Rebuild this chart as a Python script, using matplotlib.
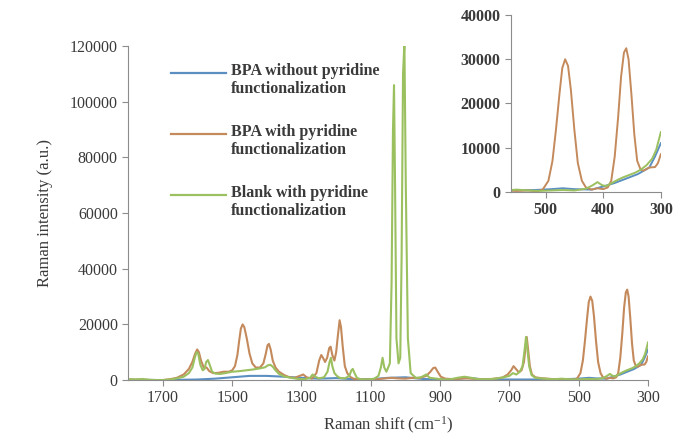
import matplotlib
matplotlib.use("Agg")
import matplotlib.pyplot as plt
from matplotlib.lines import Line2D

plt.rcParams['font.family'] = ['Liberation Serif', 'DejaVu Serif']
plt.rcParams['mathtext.default'] = 'regular'

# Raman shift (cm-1) and intensity (a.u.)
blue_x = [1800, 1750, 1700, 1650, 1600, 1550, 1500, 1450, 1400, 1350, 1300, 1250,
          1200, 1150, 1100, 1050, 1000, 950, 900, 850, 820, 780, 700, 600, 520,
          490, 470, 450, 420, 400, 380, 360, 340, 320, 310, 300]
blue_y = [100, 50, 0, 100, 200, 500, 1000, 1500, 1500, 1200, 800, 500,
          700, 300, 300, 800, 1000, 400, 200, 400, 800, 300, 200, 200, 400,
          600, 800, 600, 500, 1200, 2000, 3000, 4000, 5500, 8000, 11000]

brown_x = [1800, 1760, 1720, 1700, 1680, 1660, 1640, 1625, 1615, 1607, 1601, 1596,
           1590, 1582, 1574, 1566, 1555, 1540, 1525, 1510, 1500, 1492, 1485, 1480,
           1475, 1470, 1465, 1458, 1450, 1442, 1432, 1420, 1410, 1403, 1398, 1394,
           1389, 1383, 1375, 1365, 1350, 1335, 1320, 1305, 1295, 1285, 1270, 1257,
           1249, 1243, 1238, 1232, 1226, 1220, 1216, 1211, 1205, 1200, 1195, 1190,
           1186, 1181, 1175, 1168, 1160, 1150, 1130, 1100, 1080, 1060, 1040, 1020,
           1000, 980, 960, 940, 928, 920, 914, 907, 898, 885, 860, 830,
           810, 780, 750, 720, 705, 695, 688, 681, 673, 665, 658, 654,
           650, 646, 641, 635, 625, 610, 590, 570, 550, 530, 515, 505,
           495, 488, 482, 476, 471, 466, 461, 456, 450, 444, 437, 430,
           420, 410, 400, 392, 386, 380, 374, 369, 364, 360, 356, 351,
           346, 341, 335, 330, 320, 310, 305, 300]
brown_y = [200, 100, 0, 0, 300, 800, 2000, 4000, 6500, 9500, 11000, 10000,
           7000, 4500, 4500, 3200, 2500, 2600, 3000, 3000, 3500, 5000, 9000, 14000,
           18500, 20000, 19000, 15000, 9500, 6000, 4500, 4500, 6000, 9500, 12500, 13000,
           11000, 7000, 4500, 3000, 1800, 1000, 800, 1500, 2000, 1000, 500, 2500,
           7000, 9000, 8000, 6500, 8000, 11500, 12000, 9000, 7000, 10000, 16000, 21500,
           19000, 12000, 5000, 2500, 1200, 500, 200, 200, 300, 600, 800, 600,
           500, 800, 700, 1500, 3000, 4300, 4500, 3000, 1200, 500, 300, 600,
           500, 300, 400, 900, 2000, 3500, 5000, 4000, 2800, 3500, 6500, 11000,
           15500, 11000, 5000, 2000, 1000, 700, 500, 300, 200, 300, 100, 500,
           2500, 7000, 14000, 22000, 28000, 30000, 28500, 23000, 14000, 6500, 2500, 1000,
           500, 800, 600, 1000, 2500, 8000, 17000, 26000, 31500, 32500, 30000, 22000,
           13000, 7000, 5000, 4800, 5500, 5600, 6500, 8500]

green_x = [1800, 1780, 1760, 1740, 1720, 1700, 1680, 1660, 1640, 1625, 1615, 1608,
           1603, 1598, 1592, 1585, 1580, 1575, 1570, 1565, 1558, 1548, 1535, 1520,
           1500, 1480, 1460, 1440, 1420, 1405, 1397, 1390, 1383, 1375, 1365, 1350,
           1330, 1310, 1290, 1275, 1268, 1260, 1250, 1235, 1225, 1219, 1215, 1211,
           1205, 1198, 1190, 1175, 1162, 1156, 1152, 1147, 1140, 1130, 1110, 1090,
           1078, 1071, 1066, 1061, 1055, 1045, 1040, 1036, 1033, 1030, 1026, 1020,
           1015, 1011, 1007, 1003, 999, 993, 985, 970, 955, 940, 930, 910,
           890, 870, 850, 830, 810, 790, 760, 740, 720, 700, 690, 680,
           670, 662, 656, 652, 648, 643, 636, 625, 610, 590, 570, 550,
           530, 510, 490, 470, 450, 430, 418, 410, 402, 395, 385, 375,
           365, 355, 345, 335, 325, 315, 308, 300]
green_y = [300, 200, 400, 100, 0, 0, 200, 600, 1200, 2500, 4500, 8000,
           10000, 9500, 5500, 3500, 4000, 6500, 7200, 5500, 3000, 2300, 2200, 2500,
           3000, 3200, 3500, 3800, 4200, 4600, 5300, 5500, 4800, 3500, 2200, 1300,
           800, 400, 300, 800, 2000, 1200, 600, 1000, 3000, 6500, 8000, 5000,
           2500, 1500, 800, 600, 1500, 3500, 4000, 2500, 800, 300, 200, 500,
           1500, 4500, 8000, 4500, 3000, 6000, 35000, 90000, 106000, 70000, 15000, 6000,
           8000, 45000, 110000, 121000, 70000, 15000, 2500, 800, 1000, 2000, 800, 500,
           200, 300, 800, 1200, 800, 300, 300, 500, 900, 1500, 2500, 2000,
           3000, 5000, 11000, 15500, 11000, 5000, 1800, 800, 600, 400, 300, 500,
           300, 200, 300, 400, 300, 700, 1500, 2200, 1500, 1300, 2000, 2700,
           3300, 3800, 4300, 5000, 6000, 7500, 9500, 13500]

labels = ['BPA without pyridine\nfunctionalization',
          'BPA with pyridine\nfunctionalization',
          'Blank with pyridine\nfunctionalization']
colors = ['#5b8fc2', '#c48a5c', '#9bc05f']
series = [(blue_x, blue_y), (brown_x, brown_y), (green_x, green_y)]

spine_c = '#8c8c8c'
text_c = '#3a3a3a'

fig = plt.figure(figsize=(6.75, 4.44), dpi=100)
ax = fig.add_axes([0.19, 0.144, 0.77, 0.752])
for (x, y), c in zip(series, colors):
    ax.plot(x, y, color=c, lw=1.5)
ax.set_xlim(1800, 300)
ax.set_ylim(0, 120000)
ax.set_xticks(range(1700, 299, -200))
ax.set_yticks(range(0, 120001, 20000))
for s in ['top', 'right']:
    ax.spines[s].set_visible(False)
for s in ['left', 'bottom']:
    ax.spines[s].set_color(spine_c)
ax.tick_params(colors=spine_c, labelcolor=text_c, labelsize=11.5, length=4)
ax.set_ylabel('Raman intensity (a.u.)', fontsize=12, color=text_c, labelpad=12)
ax.set_xlabel('Raman shift (cm$^{-1}$)', fontsize=12, color=text_c, labelpad=6)

# legend drawn by hand so the handle sits on the first text line
for i, (lab, c) in enumerate(zip(labels, colors)):
    yy = 1 - (73 + 61 * i) / 444
    fig.add_artist(Line2D([171 / 675, 226 / 675], [yy, yy], color=c, lw=1.6))
    fig.text(231 / 675, yy + 10 / 444, lab, fontsize=11.5, color=text_c,
             va='top', ha='left', fontweight='bold', linespacing=1.15)

# inset zoom on the low-shift region
ins = fig.add_axes([0.757, 0.568, 0.222, 0.398])
for (x, y), c in zip(series, colors):
    ins.plot(x, y, color=c, lw=1.4)
ins.set_xlim(560, 300)
ins.set_ylim(0, 40000)
ins.set_xticks([500, 400, 300])
ins.set_yticks(range(0, 40001, 10000))
for s in ['top', 'right']:
    ins.spines[s].set_visible(False)
for s in ['left', 'bottom']:
    ins.spines[s].set_color(spine_c)
ins.tick_params(colors=spine_c, labelcolor=text_c, labelsize=11.5, length=4)
for t in ins.get_xticklabels() + ins.get_yticklabels():
    t.set_fontweight('bold')

fig.savefig('out.png', dpi=100)
